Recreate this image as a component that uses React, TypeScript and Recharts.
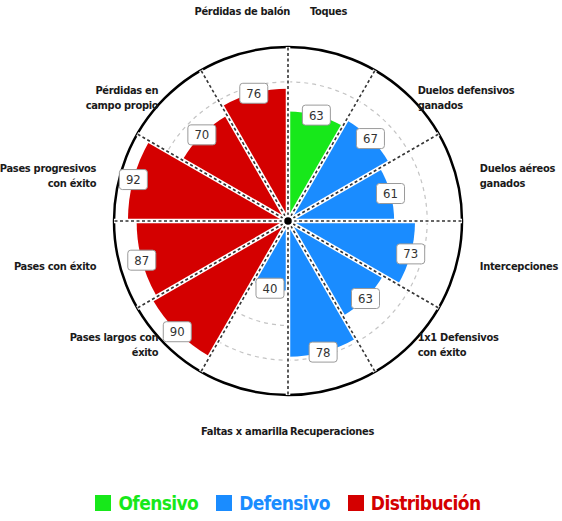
import React from 'react';
import {
  RadialBarChart,
  RadialBar,
  PolarAngleAxis,
  PolarRadiusAxis,
  PolarGrid,
  Cell,
  LabelList,
} from 'recharts';

// clockwise from 12 o'clock
const categories = [
  'Toques',
  'Duelos defensivos\nganados',
  'Duelos aéreos\nganados',
  'Intercepciones',
  '1x1 Defensivos\ncon éxito',
  'Recuperaciones',
  'Faltas x amarilla',
  'Pases largos con\néxito',
  'Pases con éxito',
  'Pases progresivos\ncon éxito',
  'Pérdidas en\ncampo propio',
  'Pérdidas de balón',
];
const values = [63, 67, 61, 73, 63, 78, 40, 90, 87, 92, 70, 76];
const groups = [
  'Ofensivo',
  'Defensivo', 'Defensivo', 'Defensivo', 'Defensivo', 'Defensivo', 'Defensivo',
  'Distribución', 'Distribución', 'Distribución', 'Distribución', 'Distribución',
];
const legendItems = ['Ofensivo', 'Defensivo', 'Distribución'];
const gridTicks = [20, 40, 60, 80];

const COLORS: Record<string, string> = {
  Ofensivo: '#17e81a',
  Defensivo: '#1a8cff',
  Distribución: '#d40000',
};

const FONT = '"DejaVu Sans Condensed", "DejaVu Sans", sans-serif';
const CX = 288;
const CY = 221;
const R = 174;
const RAD = Math.PI / 180;

const data = categories.map((label, i) => ({
  name: label.replace('\n', ' '),
  label,
  value: values[i],
  group: groups[i],
}));

// white dashed separator at the start edge of every slice, drawn above the bars
const Spoke = (props: any) => {
  const { viewBox, index } = props;
  if (!viewBox) return null;
  const a = viewBox.startAngle;
  const x2 = viewBox.cx + R * Math.cos(-a * RAD);
  const y2 = viewBox.cy + R * Math.sin(-a * RAD);
  return (
    <g>
      <line x1={viewBox.cx} y1={viewBox.cy} x2={x2} y2={y2} stroke="#fff" strokeWidth={4.5} />
      <line x1={viewBox.cx} y1={viewBox.cy} x2={x2} y2={y2} stroke="#333" strokeWidth={1.6} strokeDasharray="3 2.5" />
      {index === data.length - 1 && (
        <circle cx={viewBox.cx} cy={viewBox.cy} r={5} fill="#000" stroke="#fff" strokeWidth={2.5} />
      )}
    </g>
  );
};

const ValueBox = (props: any) => {
  const { viewBox, value } = props;
  if (!viewBox) return null;
  const mid = (viewBox.startAngle + viewBox.endAngle) / 2;
  const x = viewBox.cx + viewBox.outerRadius * Math.cos(-mid * RAD);
  const y = viewBox.cy + viewBox.outerRadius * Math.sin(-mid * RAD);
  return (
    <g>
      <rect x={x - 14} y={y - 10} width={28} height={20} rx={3} fill="#fff" stroke="#9a9a9a" strokeWidth={1} />
      <text x={x} y={y + 4.5} textAnchor="middle" fontFamily={FONT} fontSize={13} fill="#333">
        {value}
      </text>
    </g>
  );
};

const CategoryLabel = (props: any) => {
  const { viewBox, value } = props;
  if (!viewBox) return null;
  const mid = (viewBox.startAngle + viewBox.endAngle) / 2;
  const s = Math.cos(mid * RAD); // sin of clockwise angle from top
  const c = Math.sin(mid * RAD); // cos of clockwise angle from top
  const sign = s >= 0 ? 1 : -1;
  const top = Math.abs(c) > 0.9;
  let dx = 240 * s - 40 * sign;
  let dy = -174 * c;
  if (top) {
    dx = c > 0 ? (sign > 0 ? 22 : 2) : sign > 0 ? 2 : 0;
    dy = -Math.sign(c) * 210;
  }
  const lines = String(value).split('\n');
  const lh = 15;
  const y0 = viewBox.cy + dy - ((lines.length - 1) * lh) / 2 + 4;
  return (
    <text
      x={viewBox.cx + dx}
      y={y0}
      textAnchor={sign > 0 ? 'start' : 'end'}
      fontFamily={FONT}
      fontWeight="bold"
      fontSize={11}
      letterSpacing={-0.3}
      fill="#1a1a1a"
    >
      {lines.map((l, i) => (
        <tspan key={i} x={viewBox.cx + dx} dy={i === 0 ? 0 : lh}>
          {l}
        </tspan>
      ))}
    </text>
  );
};

export default function App() {
  return (
    <div style={{ position: 'absolute', left: 0, top: 0, width: 562, height: 521, background: '#fff' }}>
      <RadialBarChart
        width={562}
        height={470}
        cx={CX}
        cy={CY}
        innerRadius={0}
        outerRadius={R}
        startAngle={60}
        endAngle={-300}
        layout="centric"
        data={data}
        barCategoryGap={0}
        barGap={0}
        margin={{ top: 0, right: 0, bottom: 0, left: 0 }}
      >
        <PolarAngleAxis type="category" dataKey="name" tick={false} axisLine={false} tickLine={false} />
        <PolarRadiusAxis type="number" domain={[0, 100]} ticks={gridTicks} tick={false} axisLine={false} tickLine={false} />
        <PolarGrid gridType="circle" radialLines={false} stroke="#c4c4c4" strokeDasharray="4 4" strokeWidth={1.2} />
        <PolarGrid gridType="circle" polarAngles={[]} radialLines={false} polarRadius={[R]} stroke="#000" strokeWidth={2.5} />
        <RadialBar dataKey="value" isAnimationActive={false}>
          {data.map((d, i) => (
            <Cell key={i} fill={COLORS[d.group]} />
          ))}
          <LabelList dataKey="value" content={Spoke} />
          <LabelList dataKey="value" content={ValueBox} />
          <LabelList dataKey="label" content={CategoryLabel} />
        </RadialBar>
      </RadialBarChart>
      <div
        style={{
          position: 'absolute',
          top: 492,
          left: 0,
          width: 576,
          display: 'flex',
          justifyContent: 'center',
          gap: 18,
          fontFamily: FONT,
          fontWeight: 'bold',
          fontSize: 19,
          letterSpacing: -0.6,
        }}
      >
        {legendItems.map((g) => (
          <div key={g} style={{ display: 'flex', alignItems: 'center', color: COLORS[g] }}>
            <span style={{ width: 16, height: 16, background: COLORS[g], marginRight: 7, display: 'inline-block' }} />
            {g}
          </div>
        ))}
      </div>
    </div>
  );
}
